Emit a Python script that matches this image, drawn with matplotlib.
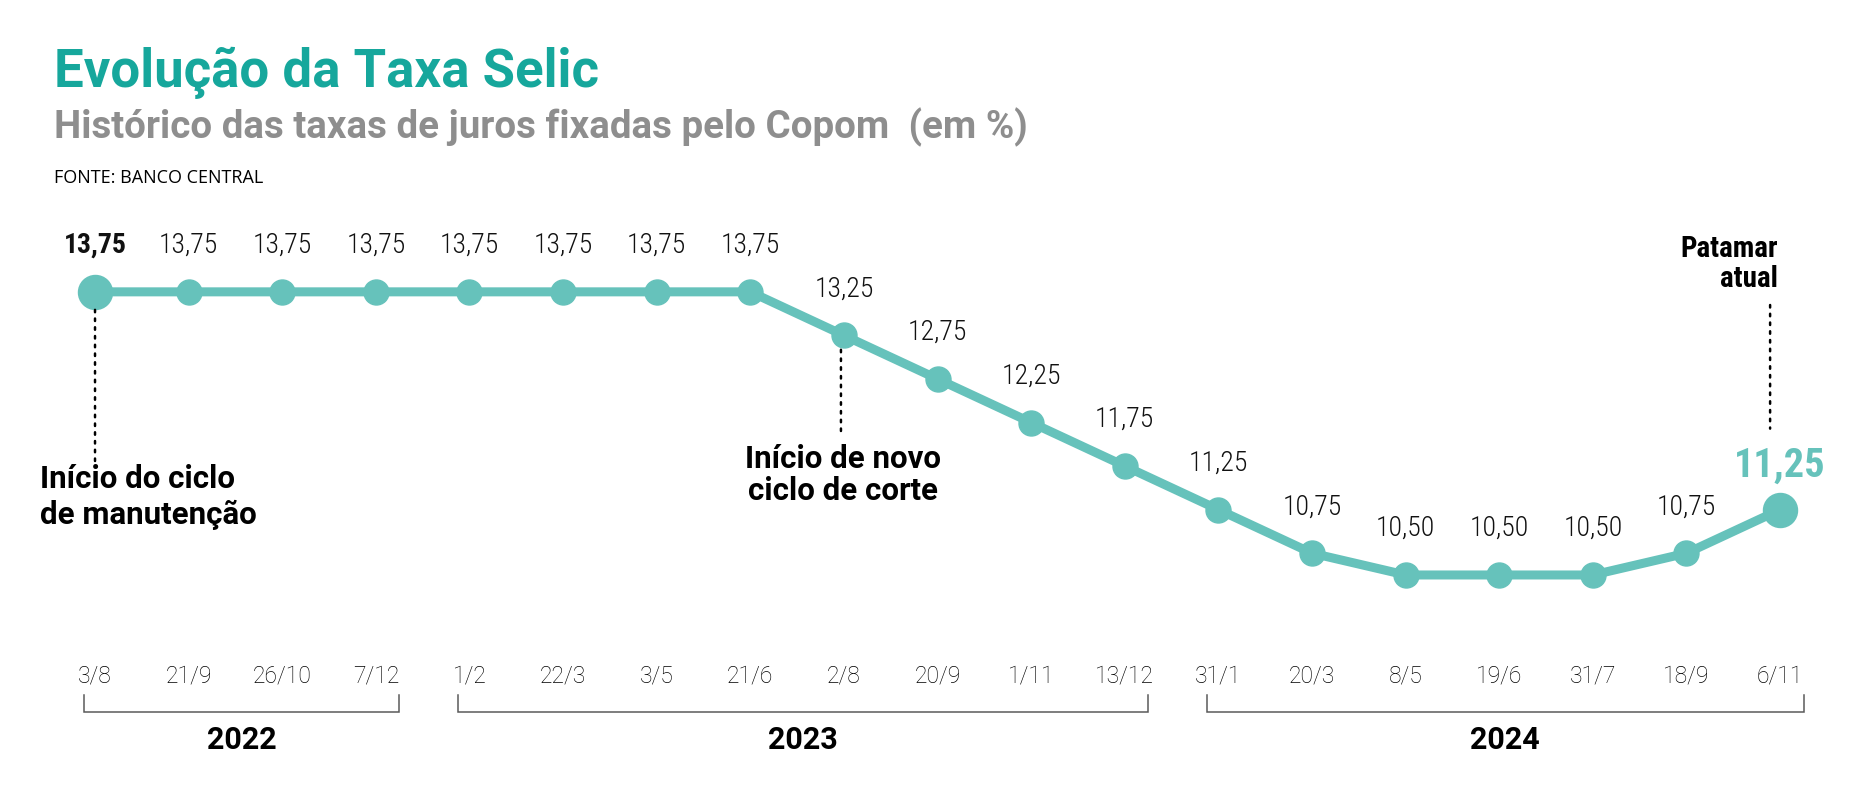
import matplotlib
matplotlib.use("Agg")
import matplotlib.pyplot as plt
from matplotlib.transforms import offset_copy

# data (Copom meetings, Selic rate in %)
dates = ["3/8", "21/9", "26/10", "7/12",
         "1/2", "22/3", "3/5", "21/6", "2/8", "20/9", "1/11", "13/12",
         "31/1", "20/3", "8/5", "19/6", "31/7", "18/9", "6/11"]
selic = [13.75, 13.75, 13.75, 13.75,
         13.75, 13.75, 13.75, 13.75, 13.25, 12.75, 12.25, 11.75,
         11.25, 10.75, 10.50, 10.50, 10.50, 10.75, 11.25]
years = ["2022", "2023", "2024"]
meetings_per_year = [4, 8, 7]

TITLE_C = "#16a79c"
LINE_C = "#66c2bb"
GRAY = "#8e8e8e"

ROBOTO = ["Roboto", "DejaVu Sans"]
COND = ["Roboto Condensed", "Roboto", "DejaVu Sans"]
plt.rcParams["font.family"] = COND

W, H = 1855, 800
fig = plt.figure(figsize=(W / 100, H / 100), dpi=100)
ax = fig.add_axes([0, 0, 1, 1])
ax.set_xlim(-1.015, 18.80)
ax.set_ylim(7.917, 17.10)
ax.axis("off")


def fy(px):
    return 1 - px / H


XT = ax.get_xaxis_transform()  # x in data, y in figure fraction

# titles
fig.text(54 / W, fy(87), "Evolução da Taxa Selic", color=TITLE_C,
         fontsize=38, weight="bold", family=ROBOTO, va="baseline")
fig.text(54 / W, fy(138), "Histórico das taxas de juros fixadas pelo Copom  (em %)",
         color=GRAY, fontsize=27.7, weight="bold", family=ROBOTO, va="baseline")
fig.text(54 / W, fy(183), "FONTE: BANCO CENTRAL", fontsize=13,
         family=["Open Sans", "DejaVu Sans"], va="baseline")

# line + markers
x = list(range(len(selic)))
ax.plot(x, selic, color=LINE_C, lw=6.5, solid_joinstyle="round",
        solid_capstyle="round", zorder=2)
ax.plot(x[1:-1], selic[1:-1], "o", ms=18, color=LINE_C, zorder=3)
ax.plot([x[0], x[-1]], [selic[0], selic[-1]], "o", ms=24.5, color=LINE_C, zorder=3)

# value labels
for i, v in enumerate(selic):
    s = f"{v:.2f}".replace(".", ",")
    if i == len(selic) - 1:
        ax.annotate(s, (i, v), xytext=(0, 33), textcoords="offset pixels",
                    ha="center", va="baseline", fontsize=29, weight="bold",
                    color=LINE_C)
    else:
        ax.annotate(s, (i, v), xytext=(0, 39), textcoords="offset pixels",
                    ha="center", va="baseline", fontsize=20,
                    weight="bold" if i == 0 else "light", color="#111111")

# date labels
for i, d in enumerate(dates):
    ax.text(i, fy(683), d, transform=XT, ha="center", va="baseline",
            fontsize=16.5, weight="light", family=ROBOTO, color="black")

# year brackets
start = 0
for yr, n in zip(years, meetings_per_year):
    x0, x1 = start - 0.12, start + n - 1 + 0.25
    ax.plot([x0, x0, x1, x1], [fy(695), fy(712), fy(712), fy(695)],
            transform=XT, color="#5a5a5a", lw=1.1, solid_joinstyle="miter")
    ax.text((x0 + x1) / 2, fy(749), yr, transform=XT, ha="center",
            va="baseline", fontsize=22, weight="bold", family=ROBOTO,
            color="black")
    start += n


# annotations with dotted leaders
def dotted(i, dx, gap, y_end):
    # gap: pixels from marker centre (positive = below)
    ax.annotate("", xy=(i, selic[i]),
                xycoords=offset_copy(ax.transData, fig=fig, x=dx, y=-gap, units="dots"),
                xytext=(i, fy(y_end)),
                textcoords=offset_copy(XT, fig=fig, x=dx, y=0, units="dots"),
                arrowprops=dict(arrowstyle="-", color="black", lw=1.8,
                                linestyle=(0, (1, 2.5)), shrinkA=0, shrinkB=0))


ann_kw = dict(fontsize=22.5, weight="bold", color="black", family=ROBOTO)

ax.text(0, fy(497), "Início do ciclo\nde manutenção",
        transform=offset_copy(XT, fig=fig, x=-55, units="dots"),
        ha="left", va="center", linespacing=1.25, **ann_kw)
dotted(0, 0, 18, 461)

ax.text(8, fy(475), "Início de novo\nciclo de corte",
        transform=offset_copy(XT, fig=fig, x=-1, units="dots"),
        ha="center", va="center", multialignment="center",
        linespacing=1.12, **ann_kw)
dotted(8, -3, 11, 431)

ax.text(18, fy(264), "Patamar\natual",
        transform=offset_copy(XT, fig=fig, x=-2, units="dots"),
        ha="right", va="center", multialignment="right",
        fontsize=21, weight="bold", color="black", linespacing=1.12)
dotted(18, -10, -81, 305)

fig.savefig("out.png", dpi=100)
